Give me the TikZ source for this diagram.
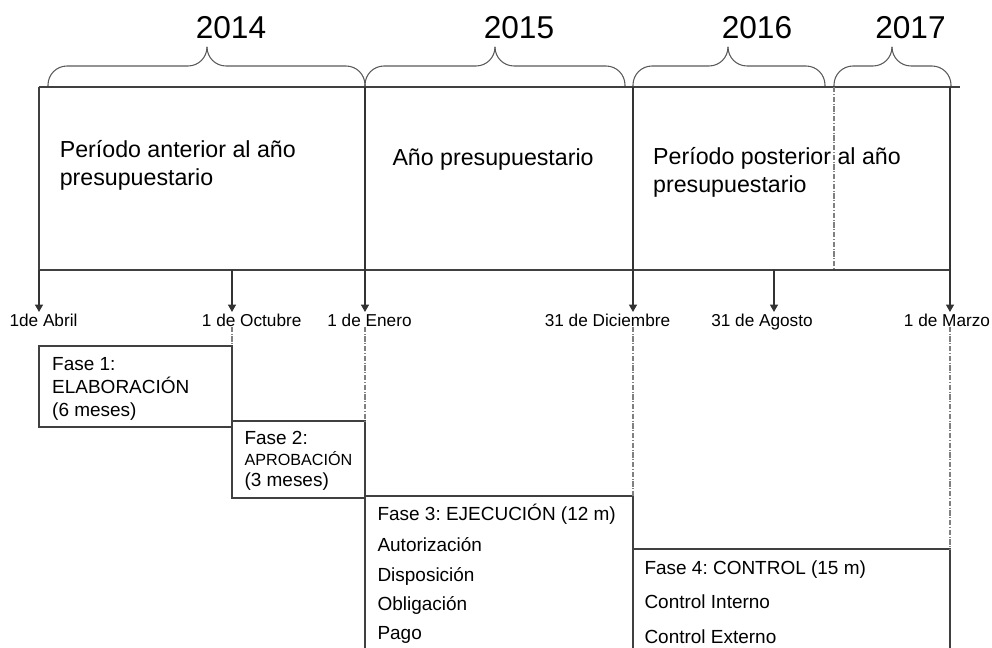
\documentclass[tikz,border=0pt]{standalone}
\usepackage{fontspec}
\setmainfont{Liberation Sans}
\usetikzlibrary{arrows.meta}
\frenchspacing

\begin{document}
\begin{tikzpicture}[x=0.02cm, y=-0.02cm,
    every node/.style={inner sep=0pt, text=black},
    every path/.style={line width=0.6pt},
    rulepath/.style={draw=black!75},
    dashdot/.style={draw=black!50, dash pattern=on 3pt off 1pt on 0.5pt off 1pt},
    yearbrace/.style={draw=black!65, rounded corners=0.38cm},
    datearrow/.style={draw=black!80, -{Triangle[width=4.6pt,length=4.2pt]}},
    yearlabel/.style={font=\fontsize{18}{20}\selectfont, anchor=base},
    periodtext/.style={font=\fontsize{13.2}{16}\selectfont, anchor=base west},
    datelabel/.style={font=\fontsize{9.8}{11}\selectfont, anchor=base, outer sep=1.3pt},
    phasetext/.style={font=\fontsize{10.8}{12}\selectfont, anchor=base west}]

    \useasboundingbox (0,0) rectangle (992,648);

    \coordinate (1) at (39,87);
    \coordinate (2) at (365,87);
    \coordinate (3) at (633,87);
    \coordinate (4) at (834,87);
    \coordinate (5) at (950,87);
    \coordinate (6) at (960,87);
    \coordinate (7) at (39,270);
    \coordinate (8) at (232,270);
    \coordinate (9) at (365,270);
    \coordinate (10) at (633,270);
    \coordinate (11) at (774,270);
    \coordinate (12) at (834,270);
    \coordinate (13) at (950,270);

    \node[yearlabel] (14) at (231,39) {2014};
    \node[yearlabel] (15) at (519,39) {2015};
    \node[yearlabel] (16) at (757,39) {2016};
    \node[yearlabel] (17) at (910.5,39) {2017};

    \draw[yearbrace] (48,87) -- (48,66) -- (207,66) -- (207,47);
    \draw[yearbrace] (207,47) -- (207,66) -- (365,66) -- (365,87);
    \draw[yearbrace] (365,87) -- (365,66) -- (495,66) -- (495,47);
    \draw[yearbrace] (495,47) -- (495,66) -- (625,66) -- (625,87);
    \draw[yearbrace] (633,87) -- (633,66) -- (728,66) -- (728,47);
    \draw[yearbrace] (728,47) -- (728,66) -- (825,66) -- (825,87);
    \draw[yearbrace] (834,87) -- (834,66) -- (892,66) -- (892,47);
    \draw[yearbrace] (892,47) -- (892,66) -- (951,66) -- (951,87);

    \node[periodtext] (18) at (59.3,157.3) {Período anterior al año};
    \node[periodtext] (19) at (59.3,185.7) {presupuestario};
    \node[periodtext] (20) at (392,166) {Año presupuestario};
    \node[periodtext] (27) at (652.7,164.5) {Período posterior al año};
    \node[periodtext] (28) at (652.7,193) {presupuestario};

    \node[datelabel] (21) at (43.5,326.7) {1de Abril};
    \node[datelabel] (22) at (251.7,326.7) {1 de Octubre};
    \node[datelabel] (23) at (369.5,326.7) {1 de Enero};
    \node[datelabel] (24) at (607.5,326.7) {31 de Diciembre};
    \node[datelabel] (25) at (762,326.7) {31 de Agosto};
    \node[datelabel] (26) at (947,326.7) {1 de Marzo};

    \draw[rulepath] (1) -- (6);
    \draw[rulepath] (1) -- (7);
    \draw[rulepath] (7) -- (13);
    \draw[dashdot] (4) -- (12);

    \draw[datearrow] (7) -- (7 |- 21.north);
    \draw[datearrow] (8) -- (8 |- 22.north);
    \draw[datearrow] (2) -- (2 |- 23.north);
    \draw[datearrow] (3) -- (3 |- 24.north);
    \draw[datearrow] (11) -- (11 |- 25.north);
    \draw[datearrow] (5) -- (5 |- 26.north);

    \draw[rulepath] (39,346) rectangle (232,427);
    \draw[rulepath] (232,421) rectangle (365,498);
    \draw[rulepath] (365,648) |- (633,496) -- (633,648);
    \draw[rulepath] (633,648) |- (950,549) -- (950,648);

    \draw[dashdot] (8 |- 22.base) -- (232,346);
    \draw[dashdot] (2 |- 23.base) -- (365,421);
    \draw[dashdot] (3 |- 24.base) -- (633,496);
    \draw[dashdot] (5 |- 26.base) -- (950,549);

    \node[phasetext] (29) at (51.7,370.7) {Fase 1:};
    \node[phasetext] (30) at (51.7,394) {ELABORACIÓN};
    \node[phasetext] (31) at (51.7,416.7) {(6 meses)};

    \node[phasetext] (32) at (244,445) {Fase 2:};
    \node[phasetext, font=\fontsize{9.2}{11}\selectfont] (33) at (244,465.7) {APROBACIÓN};
    \node[phasetext] (34) at (244,487) {(3 meses)};

    \node[phasetext] (35) at (377,521) {Fase 3: EJECUCIÓN (12 m)};
    \node[phasetext] (36) at (377,551.7) {Autorización};
    \node[phasetext] (37) at (377,581.7) {Disposición};
    \node[phasetext] (38) at (377,610.7) {Obligación};
    \node[phasetext] (39) at (377,640) {Pago};

    \node[phasetext] (40) at (644,575) {Fase 4: CONTROL (15 m)};
    \node[phasetext] (41) at (644,608.3) {Control Interno};
    \node[phasetext] (42) at (644,643.3) {Control Externo};

\end{tikzpicture}
\end{document}
